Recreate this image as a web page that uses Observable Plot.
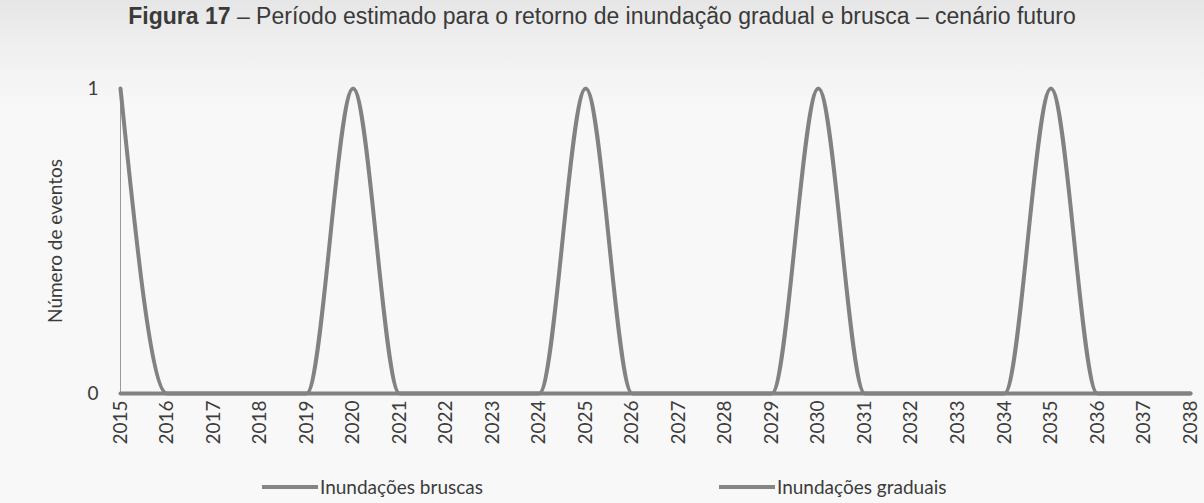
<!DOCTYPE html>
<html>
<head>
<meta charset="utf-8">
<script src="https://cdn.jsdelivr.net/npm/d3@7"></script>
<script src="https://cdn.jsdelivr.net/npm/@observablehq/plot@0.6"></script>
<style>
  html, body { margin: 0; padding: 0; background: #f7f7f7; }
  #wrap { position: relative; width: 1204px; height: 503px; overflow: hidden; background: #f8f8f8; font-family: Lato, "Open Sans", sans-serif; }
  #band { position: absolute; left: 0; top: 0; width: 1204px; height: 110px; background: linear-gradient(#e6e6e6, #efefef 40%, #f8f8f8); }
  #title { position: absolute; left: 0; width: 1204px; top: 3px; line-height: 26px; text-align: center; font-family: "Liberation Sans", Arial, sans-serif; font-size: 23px; color: #3a3a3a; white-space: nowrap; }
  #chart { position: absolute; left: 0; top: 0; }
  .leg { position: absolute; top: 475px; font-size: 19px; color: #3c3c3c; display: flex; align-items: center; }
  .leg span.sw { display: inline-block; width: 56px; height: 4px; background: #858585; margin-right: 2px; }
</style>
</head>
<body>
<div id="wrap">
  <div id="band"></div>
  <div id="title"><b>Figura 17</b> – Período estimado para o retorno de inundação gradual e brusca – cenário futuro</div>
  <div id="chart"></div>
  <div class="leg" style="left:262px"><span class="sw"></span>Inundações bruscas</div>
  <div class="leg" style="left:719px"><span class="sw"></span>Inundações graduais</div>
</div>
<script>
const years = [2015,2016,2017,2018,2019,2020,2021,2022,2023,2024,2025,2026,2027,2028,2029,2030,2031,2032,2033,2034,2035,2036,2037,2038];
const bruscas = [1,0,0,0,0,1,0,0,0,0,1,0,0,0,0,1,0,0,0,0,1,0,0,0];
const graduais = [0,0,0,0,0,0,0,0,0,0,0,0,0,0,0,0,0,0,0,0,0,0,0,0];
const yTicks = [0, 1];
const seriesNames = ["Inundações graduais", "Inundações bruscas"];

const data = [];
years.forEach((y, i) => data.push({year: y, value: graduais[i], serie: seriesNames[0]}));
years.forEach((y, i) => data.push({year: y, value: bruscas[i], serie: seriesNames[1]}));

const chart = Plot.plot({
  width: 1204,
  height: 460,
  marginLeft: 120,
  marginRight: 14,
  marginTop: 88,
  marginBottom: 67,
  style: {background: "transparent", fontFamily: "Lato, 'Open Sans', sans-serif", fontSize: "19px", color: "#3c3c3c"},
  x: {domain: [2015, 2038]},
  y: {domain: [0, 1]},
  marks: [
    Plot.ruleX([2015], {stroke: "#9a9a9a", strokeWidth: 1}),
    Plot.line(data, {x: "year", y: "value", z: "serie", stroke: "#828282", strokeWidth: 4, curve: "monotone-x"}),
    Plot.axisX({ticks: years, tickFormat: d => String(d), tickRotate: -90, tickSize: 0, tickPadding: 7, label: null, fontSize: 19, fill: "#3c3c3c"}),
    Plot.axisY({ticks: yTicks, tickFormat: d => String(d), tickSize: 0, tickPadding: 22, label: "Número de eventos", labelAnchor: "center", labelArrow: "none", labelOffset: 72, fontSize: 19, fill: "#3c3c3c"})
  ]
});
document.getElementById("chart").appendChild(chart);
</script>
</body>
</html>
